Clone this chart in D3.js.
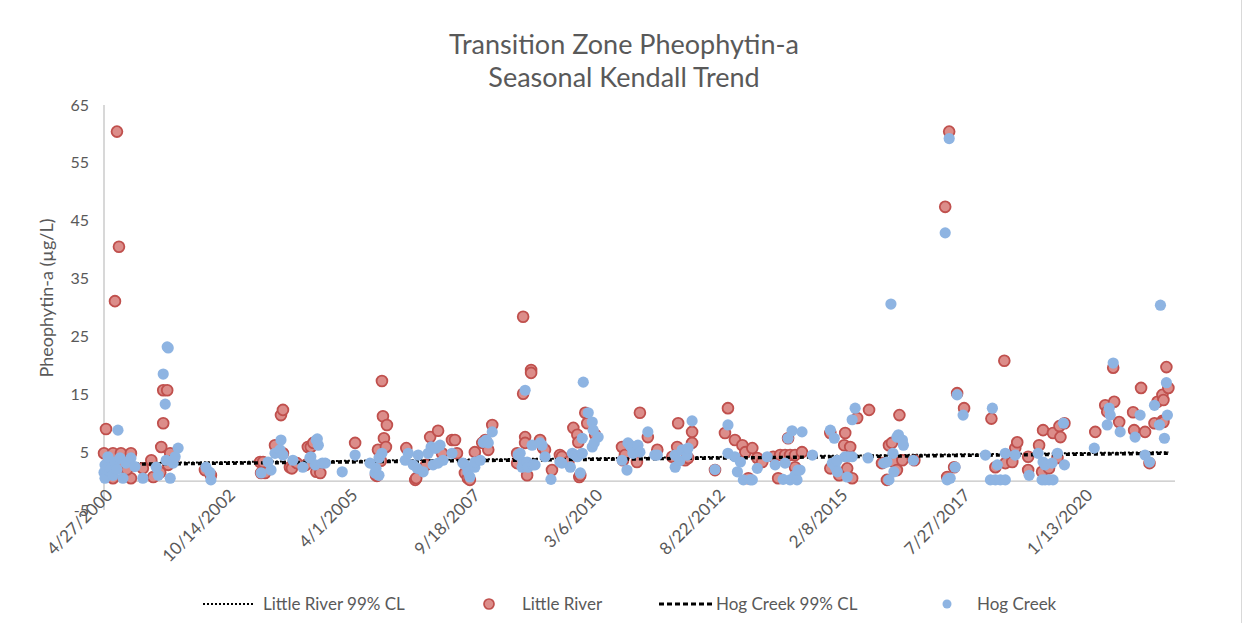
<!DOCTYPE html>
<html>
<head>
<meta charset="utf-8">
<script src="https://cdn.jsdelivr.net/npm/d3@7"></script>
<style>
  body { margin: 0; background: #fff; }
  svg { display: block; }
  text { font-family: Lato, "Open Sans", sans-serif; fill: #595959; }
</style>
</head>
<body>
<svg id="chart" width="1243" height="623"></svg>
<script>
// Chart text
const titleLines = ["Transition Zone Pheophytin-a", "Seasonal Kendall Trend"];
const yAxisTitle = "Pheophytin-a (\u00b5g/L)";
const yTicks = [-5, 5, 15, 25, 35, 45, 55, 65];
const xTickLabels = ["4/27/2000", "10/14/2002", "4/1/2005", "9/18/2007", "3/6/2010",
                     "8/22/2012", "2/8/2015", "7/27/2017", "1/13/2020"];
const legendLabels = ["Little River 99% CL", "Little River", "Hog Creek 99% CL", "Hog Creek"];

// Samples: [decimal year, pheophytin-a µg/L]
const littleRiver = [
  [2000.32,4.8],[2000.36,9.0],[2000.40,3.0],[2000.50,4.8],[2000.50,0.5],[2000.54,31.1],[2000.58,60.4],[2000.62,40.5],[2000.66,4.8],[2000.70,2.5],[2000.86,4.8],[2000.86,0.5],[2000.78,2.0],
  [2001.10,2.2],[2001.27,3.6],[2001.31,0.7],[2001.45,1.5],[2001.47,5.9],[2001.51,10.0],[2001.51,15.7],[2001.59,15.7],[2001.61,2.8],[2001.65,4.8],[2001.71,3.6],
  [2002.35,1.9],[2002.47,1.0],
  [2003.46,3.3],[2003.48,1.4],[2003.52,3.3],[2003.56,1.4],[2003.76,6.2],[2003.88,11.4],[2003.92,12.3],[2003.92,4.8],[2004.06,2.4],[2004.10,2.2],[2004.20,3.1],[2004.38,2.8],[2004.42,5.9],[2004.48,5.9],[2004.53,6.6],[2004.59,1.6],[2004.67,1.4],
  [2005.37,6.6],[2005.79,1.0],[2005.81,0.9],[2005.83,5.4],[2005.89,3.5],[2005.91,17.3],[2005.93,11.2],[2005.95,7.4],[2005.99,5.9],[2006.01,9.7],
  [2006.40,5.7],[2006.58,0.2],[2006.60,0.5],[2006.80,2.8],[2006.88,7.6],[2007.04,8.7],[2007.12,4.8],[2007.32,7.1],
  [2007.38,7.1],[2007.42,4.8],[2007.58,1.4],[2007.64,0.5],[2007.68,0.2],[2007.78,5.0],[2007.93,6.6],[2007.99,7.1],[2008.05,5.4],[2008.13,9.7],
  [2008.63,4.8],[2008.63,3.1],[2008.75,28.4],[2008.75,15.1],[2008.79,7.6],[2008.79,6.6],[2008.83,1.0],[2008.91,19.2],[2008.91,18.7],[2009.09,7.1],[2009.15,5.7],[2009.19,5.4],
  [2009.33,1.9],[2009.49,4.5],[2009.53,4.2],[2009.66,3.3],[2009.76,9.2],[2009.84,8.0],[2009.86,6.7],[2009.88,0.7],[2009.90,1.0],[2010.00,11.8],[2010.04,10.0],[2010.20,8.0],
  [2010.74,5.9],[2010.76,3.6],[2010.80,4.5],[2011.04,3.3],[2011.10,11.8],[2011.26,7.6],[2011.45,5.4],
  [2011.75,4.2],[2011.85,5.9],[2011.87,10.0],[2012.01,3.6],[2012.07,4.0],[2012.15,8.5],[2012.15,6.6],
  [2012.61,1.9],[2012.81,8.3],[2012.87,12.6],[2013.01,7.1],[2013.16,6.2],[2013.22,5.0],[2013.28,0.5],[2013.36,5.7],[2013.46,4.0],[2013.56,3.3],
  [2013.78,4.2],[2013.88,0.5],[2013.92,4.5],[2014.02,4.5],[2014.08,7.4],[2014.12,4.5],[2014.22,4.5],[2014.22,2.4],[2014.36,5.0],
  [2014.93,8.3],[2014.93,2.2],[2015.11,1.0],[2015.21,6.2],[2015.23,8.3],[2015.27,2.2],[2015.33,5.9],[2015.37,0.5],[2015.47,10.9],[2015.71,12.3],
  [2015.97,3.1],[2016.07,0.2],[2016.11,6.2],[2016.17,6.6],[2016.21,3.3],[2016.27,1.9],[2016.32,11.4],[2016.38,3.6],[2016.62,3.6],
  [2017.24,47.4],[2017.28,0.7],[2017.32,60.4],[2017.42,2.4],[2017.48,15.2],[2017.62,12.6],
  [2018.17,10.8],[2018.25,2.4],[2018.43,20.8],[2018.45,3.1],[2018.59,3.3],[2018.65,5.7],[2018.69,6.7],[2018.91,4.2],[2018.91,1.9],[2019.13,6.2],
  [2019.19,1.6],[2019.21,8.8],[2019.33,2.2],[2019.41,8.3],[2019.50,4.0],[2019.54,9.5],[2019.56,7.6],[2019.64,10.0],
  [2020.26,8.5],[2020.46,13.1],[2020.50,12.0],[2020.62,19.6],[2020.64,13.7],[2020.74,10.2],[2021.02,11.9],[2021.04,8.8],[2021.18,16.1],[2021.26,8.5],[2021.35,3.1],
  [2021.45,10.0],[2021.51,13.7],[2021.61,14.9],[2021.61,10.4],[2021.63,10.2],[2021.63,14.0],[2021.69,19.7],[2021.73,16.1]
];

const hogCreek = [
  [2000.32,1.5],[2000.34,2.8],[2000.34,0.5],[2000.36,2.0],[2000.40,4.2],[2000.44,1.6],[2000.46,2.2],[2000.50,1.0],[2000.54,3.3],[2000.58,2.0],[2000.60,8.8],[2000.64,4.0],[2000.70,0.5],[2000.76,3.1],[2000.86,4.0],[2000.94,2.5],
  [2001.10,0.5],[2001.37,2.4],[2001.41,1.0],[2001.51,18.5],[2001.55,13.3],[2001.57,3.6],[2001.59,23.2],[2001.61,23.0],[2001.65,0.5],[2001.71,3.1],[2001.75,4.2],[2001.81,5.7],
  [2002.37,2.4],[2002.45,1.5],[2002.47,0.2],
  [2003.48,1.4],[2003.62,3.3],[2003.68,1.9],[2003.76,4.8],[2003.86,5.4],[2003.88,7.1],[2003.92,4.5],[2004.12,3.6],[2004.32,2.4],[2004.46,4.0],[2004.48,4.2],[2004.57,2.8],[2004.59,7.1],[2004.61,7.3],[2004.63,6.2],[2004.71,3.1],[2004.77,3.1],
  [2005.11,1.6],[2005.37,4.5],[2005.67,3.1],[2005.77,1.4],[2005.79,2.2],[2005.85,4.0],[2005.85,1.0],[2005.91,4.8],
  [2006.38,3.6],[2006.44,4.8],[2006.54,2.8],[2006.62,2.2],[2006.64,4.5],[2006.74,1.6],[2006.84,4.8],[2006.90,5.9],[2006.94,2.8],[2006.98,5.7],[2007.00,5.7],[2007.04,3.1],[2007.08,6.2],[2007.14,3.6],
  [2007.32,4.8],[2007.54,3.1],[2007.58,2.8],[2007.64,1.6],[2007.68,0.7],[2007.78,2.4],[2007.78,3.3],[2007.89,3.6],[2007.95,6.7],[2008.01,7.1],[2008.05,6.6],[2008.13,8.5],
  [2008.65,4.5],[2008.69,4.8],[2008.73,2.4],[2008.75,3.3],[2008.79,15.7],[2008.83,3.3],[2008.85,2.4],[2008.93,6.2],[2008.95,2.8],[2008.99,2.8],[2009.09,6.6],[2009.13,6.2],[2009.19,4.2],
  [2009.31,0.3],[2009.49,3.3],[2009.53,3.1],[2009.70,2.4],[2009.74,4.8],[2009.80,4.5],[2009.84,4.2],[2009.90,1.4],[2009.94,7.4],[2009.94,4.8],[2009.96,17.1],[2010.06,11.8],[2010.14,10.2],[2010.14,5.9],[2010.16,8.8],[2010.18,6.6],[2010.26,7.6],
  [2010.74,3.6],[2010.84,1.9],[2010.86,6.6],[2010.90,6.2],[2010.94,5.7],[2010.96,4.8],[2011.06,6.2],[2011.10,5.0],[2011.26,8.5],[2011.40,4.5],[2011.45,4.5],
  [2011.81,4.5],[2011.81,2.4],[2011.90,3.5],[2011.95,5.4],[2012.05,4.5],[2012.07,5.7],[2012.15,10.4],
  [2012.61,2.0],[2012.87,9.7],[2012.87,4.8],[2013.01,4.2],[2013.06,1.6],[2013.12,3.3],[2013.18,0.2],[2013.32,0.2],[2013.36,0.2],[2013.46,2.2],[2013.66,4.2],[2013.82,2.8],[2013.98,0.3],
  [2014.02,3.1],[2014.08,7.4],[2014.12,0.2],[2014.16,8.7],[2014.22,1.0],[2014.26,0.2],[2014.28,1.9],[2014.32,1.9],[2014.36,8.5],
  [2014.57,4.5],[2014.93,8.8],[2014.97,3.1],[2015.01,7.4],[2015.03,2.4],[2015.07,1.6],[2015.07,3.6],[2015.23,4.2],[2015.27,0.7],[2015.29,4.2],[2015.37,4.2],[2015.37,10.6],[2015.43,12.6],
  [2015.69,4.0],[2016.01,3.1],[2016.07,3.3],[2016.11,0.2],[2016.15,30.6],[2016.19,4.8],[2016.21,1.6],[2016.27,7.6],[2016.30,8.0],[2016.38,7.1],[2016.40,6.2],[2016.60,3.6],
  [2017.24,42.9],[2017.28,0.2],[2017.32,59.2],[2017.34,0.5],[2017.44,2.4],[2017.48,14.9],[2017.60,11.4],
  [2018.05,4.5],[2018.15,0.2],[2018.19,12.6],[2018.25,0.2],[2018.29,2.8],[2018.35,0.2],[2018.45,0.2],[2018.45,4.8],[2018.65,4.5],[2018.93,1.0],[2019.11,4.8],
  [2019.19,0.2],[2019.21,3.3],[2019.25,2.8],[2019.25,0.2],[2019.33,0.2],[2019.39,3.1],[2019.41,0.2],[2019.50,4.8],[2019.62,10.0],[2019.64,2.8],
  [2020.24,5.7],[2020.50,9.7],[2020.54,12.6],[2020.56,11.4],[2020.62,20.4],[2020.76,8.5],[2021.06,7.6],[2021.16,11.4],[2021.26,4.5],[2021.35,3.3],
  [2021.45,13.1],[2021.55,9.7],[2021.57,30.4],[2021.65,7.4],[2021.69,17.0],[2021.71,11.4]
];

// Seasonal Kendall 99% confidence trend lines: [decimal year, µg/L]
const littleRiverCL = [[2000.80, 3.1], [2021.73, 5.0]];
const hogCreekCL = [[2000.80, 2.9], [2021.73, 4.8]];

// Colours
const redFill = "#dc8d8a", redStroke = "#c0504d", blueFill = "#8eb4e2", axisGrey = "#c3c3c3";

const svg = d3.select("#chart");
const parseTick = d3.utcParse("%m/%d/%Y");

function yearToDate(y) {
  const yr = Math.floor(y);
  const a = Date.UTC(yr, 0, 1), b = Date.UTC(yr + 1, 0, 1);
  return new Date(a + (y - yr) * (b - a));
}

const x = d3.scaleUtc()
  .domain([Date.UTC(2000, 3, 27), Date.UTC(2021, 10, 12)])
  .range([104, 1175]);
const y = d3.scaleLinear().domain([-5, 65]).range([510, 105]);

// Chart frame edge
svg.append("line").attr("x1", 1241.5).attr("x2", 1241.5).attr("y1", 0).attr("y2", 623)
  .attr("stroke", "#d9d9d9").attr("stroke-width", 1);

// Title
svg.append("text").attr("x", 624).attr("y", 0).attr("text-anchor", "middle")
  .style("font-size", "27px")
  .selectAll("tspan").data(titleLines).join("tspan")
  .attr("x", 624).attr("y", (d, i) => 54 + i * 33).text(d => d);

// Y axis
const yAxis = svg.append("g").attr("transform", "translate(104,0)")
  .call(d3.axisLeft(y).tickValues(yTicks).tickSize(0).tickPadding(15).tickFormat(d => String(d)));
yAxis.select(".domain").remove();
yAxis.selectAll("text").style("font-size", "16px").style("font-family", "Lato, sans-serif").attr("fill", "#595959");
svg.append("line").attr("x1", 104).attr("x2", 104).attr("y1", y(-5)).attr("y2", y(65))
  .attr("stroke", axisGrey).attr("stroke-width", 1.3);

svg.append("text").attr("transform", `translate(53,298) rotate(-90)`)
  .attr("text-anchor", "middle").style("font-size", "18px").text(yAxisTitle);

// X axis (crosses at 0)
const tickDates = xTickLabels.map(parseTick);
const xAxis = svg.append("g").attr("transform", `translate(0,${y(0)})`)
  .call(d3.axisBottom(x).tickValues(tickDates).tickSize(0).tickFormat((d, i) => xTickLabels[i]));
xAxis.select(".domain").remove();
xAxis.selectAll("text")
  .attr("x", 0).attr("y", 0).attr("dy", "0.35em")
  .attr("text-anchor", "end")
  .attr("transform", "translate(5,11) rotate(-45)")
  .style("font-size", "17px").style("font-family", "Lato, sans-serif").attr("fill", "#595959");
svg.append("line").attr("x1", x.range()[0]).attr("x2", x.range()[1]).attr("y1", y(0)).attr("y2", y(0))
  .attr("stroke", axisGrey).attr("stroke-width", 1.3);

const line = d3.line().x(d => x(yearToDate(d[0]))).y(d => y(d[1]));

// Series in plotting order
svg.append("path").datum(littleRiverCL).attr("d", line)
  .attr("fill", "none").attr("stroke", "#000").attr("stroke-width", 2).attr("stroke-dasharray", "2,2");

svg.append("g").selectAll("circle").data(littleRiver).join("circle")
  .attr("cx", d => x(yearToDate(d[0]))).attr("cy", d => y(d[1])).attr("r", 5.4)
  .attr("fill", redFill).attr("stroke", redStroke).attr("stroke-width", 1.8);

svg.append("path").datum(hogCreekCL).attr("d", line)
  .attr("fill", "none").attr("stroke", "#000").attr("stroke-width", 3.4).attr("stroke-dasharray", "4,3");

svg.append("g").selectAll("circle").data(hogCreek).join("circle")
  .attr("cx", d => x(yearToDate(d[0]))).attr("cy", d => y(d[1])).attr("r", 5.6)
  .attr("fill", blueFill);

// Legend
const legY = 604;
const leg = svg.append("g");
leg.append("line").attr("x1", 203).attr("x2", 255).attr("y1", legY).attr("y2", legY)
  .attr("stroke", "#000").attr("stroke-width", 2).attr("stroke-dasharray", "2,2");
leg.append("circle").attr("cx", 489).attr("cy", legY).attr("r", 5)
  .attr("fill", redFill).attr("stroke", redStroke).attr("stroke-width", 1.7);
leg.append("line").attr("x1", 659).attr("x2", 713).attr("y1", legY).attr("y2", legY)
  .attr("stroke", "#000").attr("stroke-width", 3).attr("stroke-dasharray", "5,3");
leg.append("circle").attr("cx", 947).attr("cy", legY).attr("r", 4.5).attr("fill", blueFill);
const legTextX = [263, 522, 716, 977];
leg.selectAll("text.lab").data(legendLabels).join("text").attr("class", "lab")
  .attr("x", (d, i) => legTextX[i]).attr("y", legY).attr("dy", "0.35em")
  .style("font-size", "17px").text(d => d);
</script>
</body>
</html>
